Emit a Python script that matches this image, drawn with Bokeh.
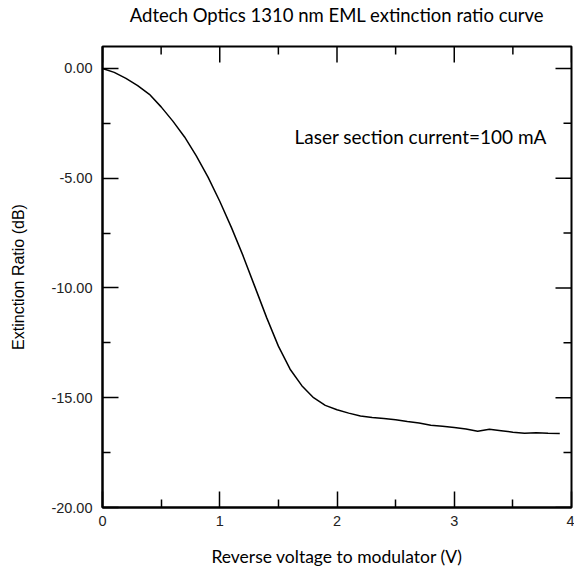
import math
from bokeh.plotting import figure
from bokeh.models import Range1d, FixedTicker, Label, LinearAxis
from bokeh.embed import file_html
from bokeh.resources import INLINE

# Data
voltage = [0.00, 0.10, 0.20, 0.30, 0.40, 0.50, 0.60, 0.70, 0.80, 0.90,
           1.00, 1.10, 1.20, 1.30, 1.40, 1.50, 1.60, 1.70, 1.80, 1.90,
           2.00, 2.10, 2.20, 2.30, 2.40, 2.50, 2.60, 2.70, 2.80, 2.90,
           3.00, 3.10, 3.20, 3.30, 3.40, 3.50, 3.60, 3.70, 3.80, 3.90]
extinction_db = [0.00, -0.18, -0.45, -0.78, -1.18, -1.75, -2.40, -3.12, -3.98, -4.95,
                 -6.05, -7.25, -8.55, -9.95, -11.35, -12.65, -13.70, -14.45, -15.00, -15.35,
                 -15.55, -15.70, -15.83, -15.90, -15.95, -16.00, -16.08, -16.15, -16.25, -16.30,
                 -16.36, -16.42, -16.53, -16.44, -16.50, -16.57, -16.62, -16.60, -16.62, -16.63]

x_min, x_max = 0, 4
y_min, y_max = -20, 1
x_ticks = [0, 1, 2, 3, 4]
x_minor_ticks = [0.5, 1.5, 2.5, 3.5]
x_tick_labels = ["0", "1", "2", "3", "4"]
y_ticks = [-20, -15, -10, -5, 0]
y_minor_ticks = [-17.5, -12.5, -7.5, -2.5]
y_tick_labels = ["-20.00", "-15.00", "-10.00", "-5.00", "0.00"]

title_text = "Adtech Optics 1310 nm EML extinction ratio curve"
x_label = "Reverse voltage to modulator (V)"
y_label = "Extinction Ratio (dB)"
note_text = "Laser section current=100 mA"

p = figure(width=574, height=569, output_backend="svg", toolbar_location=None,
           x_range=Range1d(x_min, x_max), y_range=Range1d(y_min, y_max),
           min_border_left=102, min_border_right=3, min_border_top=46, min_border_bottom=61)

p.background_fill_color = "white"
p.border_fill_color = "white"
p.grid.visible = False
p.outline_line_color = "black"
p.outline_line_width = 2

p.line(voltage, extinction_db, line_color="black", line_width=1.5)


def style_axis(ax, ticks, minor, labels):
    ax.ticker = FixedTicker(ticks=ticks, minor_ticks=minor)
    ax.major_tick_in = 16
    ax.major_tick_out = 0
    ax.minor_tick_in = 8
    ax.minor_tick_out = 0
    ax.axis_line_width = 2
    ax.axis_line_color = "black"
    ax.major_tick_line_width = 1.5
    ax.minor_tick_line_width = 1.5
    ax.major_tick_line_color = "black"
    ax.minor_tick_line_color = "black"
    ax.major_label_overrides = {t: l for t, l in zip(ticks, labels)}
    ax.major_label_text_font = "Liberation Sans"
    ax.major_label_text_font_size = "14.5px"
    ax.major_label_text_color = "#222222"


xb = p.xaxis[0]
style_axis(xb, x_ticks, x_minor_ticks, x_tick_labels)
xb.major_label_standoff = 8
xb.axis_label = x_label
xb.axis_label_text_font = "Lato"
xb.axis_label_text_font_size = "17.5px"
xb.axis_label_text_font_style = "normal"
xb.axis_label_text_color = "black"
xb.axis_label_standoff = 17

yl = p.yaxis[0]
style_axis(yl, y_ticks, y_minor_ticks, y_tick_labels)
yl.major_label_standoff = 10
yl.axis_label = y_label
yl.axis_label_text_font = "Liberation Sans"
yl.axis_label_text_font_size = "16px"
yl.axis_label_text_font_style = "normal"
yl.axis_label_text_color = "black"
yl.axis_label_standoff = 21

# Chart title carried by a tick-less axis above the frame
title_axis = LinearAxis(ticker=FixedTicker(ticks=[], minor_ticks=[]))
title_axis.axis_line_color = None
title_axis.major_tick_out = 0
title_axis.major_tick_in = 0
title_axis.minor_tick_out = 0
title_axis.minor_tick_in = 0
title_axis.major_label_standoff = 0
title_axis.axis_label = title_text
title_axis.axis_label_text_font = "Lato"
title_axis.axis_label_text_font_size = "18.5px"
title_axis.axis_label_text_font_style = "normal"
title_axis.axis_label_text_color = "black"
title_axis.axis_label_standoff = 21
p.add_layout(title_axis, "above")

# Inward ticks on the top and right frame edges (screen-length rays)
p.ray(x=x_ticks, y=[y_max] * len(x_ticks), length=16, length_units="screen",
      angle=-math.pi / 2, line_color="black", line_width=1.5)
p.ray(x=x_minor_ticks, y=[y_max] * len(x_minor_ticks), length=8, length_units="screen",
      angle=-math.pi / 2, line_color="black", line_width=1.5)
p.ray(x=[x_max] * len(y_ticks), y=y_ticks, length=16, length_units="screen",
      angle=math.pi, line_color="black", line_width=1.5)
p.ray(x=[x_max] * len(y_minor_ticks), y=y_minor_ticks, length=8, length_units="screen",
      angle=math.pi, line_color="black", line_width=1.5)

note = Label(x=3.79, y=-3.12, text=note_text, text_align="right",
             text_baseline="alphabetic", text_font="Lato", text_font_size="19px",
             text_color="black")
p.add_layout(note)

open("out.html", "w").write(file_html(p, INLINE))
